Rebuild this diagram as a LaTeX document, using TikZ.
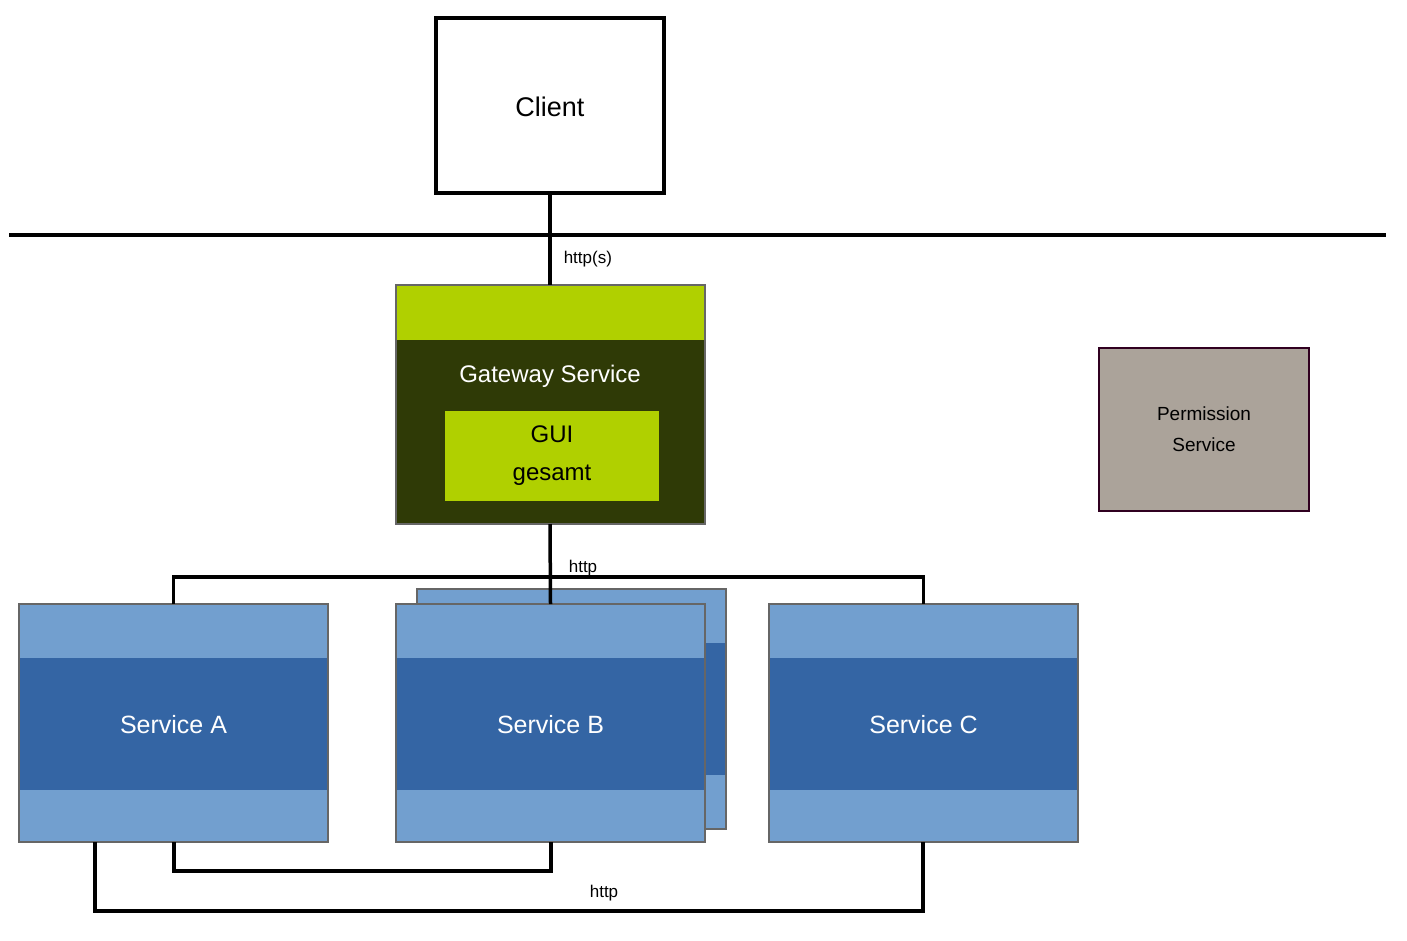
\documentclass[tikz,border=0pt]{standalone}
\usepackage{fontspec}
\setmainfont{Liberation Sans}
\definecolor{gwgreen}{HTML}{B0D000}
\definecolor{gwdark}{HTML}{2F3A06}
\definecolor{svlight}{HTML}{729FCF}
\definecolor{svdark}{HTML}{3465A4}
\definecolor{permfill}{HTML}{ABA39A}
\definecolor{permline}{HTML}{300020}
\tikzset{
  wire/.style={line width=3.5pt},
  lbl/.style={font=\fontsize{17}{20}\selectfont, inner sep=0pt},
  svtext/.style={text=white, font=\fontsize{25}{30}\selectfont},
}
\newcommand{\servicebox}[4]{% name, left x, top y, label
  \fill[svlight] (#2,#3) rectangle ++(309,238);
  \fill[svdark] (#2,#3+54) rectangle ++(309,132);
  \draw[gray!80!black, line width=2.5pt] (#2,#3) rectangle ++(309,238);
  \node[svtext] (#1) at (#2+154.5,#3+121) {#4};
  \coordinate (#1top) at (#2+154.5,#3);
}
\begin{document}
\begin{tikzpicture}[x=1pt, y=-1pt]
\useasboundingbox (0,0) rectangle (1407,940);
% client and net line
\draw[line width=3.5pt] (436,18) rectangle (664,193);
\node[font=\fontsize{27}{32}\selectfont] (client) at (550,107) {Client};
\coordinate (clientbot) at (550,193);
\draw[wire] (9,235) -- (1386,235);
% gateway
\fill[gwdark] (396,285) rectangle (705,524);
\fill[gwgreen] (396,285) rectangle (705,340);
\draw[gray!80!black, line width=2.5pt] (396,285) rectangle (705,524);
\coordinate (gwtop) at (550,285);
\coordinate (gwbot) at (550,524);
\node[text=white, font=\fontsize{24}{29}\selectfont] (gateway) at (550,376) {Gateway Service};
\node[fill=gwgreen, minimum width=214pt, minimum height=90pt, align=center,
  font=\fontsize{24}{38}\selectfont, inner sep=0pt] (gui) at (552,456) {GUI\\gesamt};
\draw[wire] (clientbot) -- node[lbl, right=12pt, pos=0.72] {http(s)} (gwtop);
% permission
\node[fill=permfill, draw=permline, line width=2.5pt, minimum width=210pt, minimum height=163pt,
  align=center, font=\fontsize{19}{31}\selectfont] (perm) at (1204,429.5) {Permission\\Service};
% services
\fill[svlight] (417,589) rectangle (726,829);
\fill[svdark] (417,643) rectangle (726,775);
\draw[gray!80!black, line width=2.5pt] (417,589) rectangle (726,829);
\servicebox{sa}{19}{604}{Service A}
\servicebox{sb}{396}{604}{Service B}
\servicebox{sc}{769}{604}{Service C}
\draw[wire] (satop) -- ++(0,-27) -| (sctop);
\draw[wire] (gwbot) -- (sbtop);
\node[lbl] (http1) at (583,568) {http};
\draw[wire] (174,842) -- (174,871) -| (551,842);
\draw[wire] (95,842) -- (95,911) -| (923,842);
\node[lbl] (http2) at (604,893) {http};
\end{tikzpicture}
\end{document}
